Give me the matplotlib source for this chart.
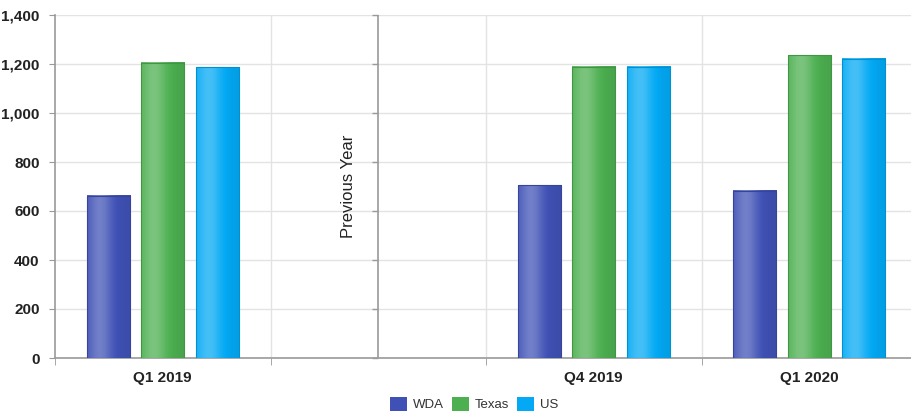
import numpy as np
import matplotlib
matplotlib.use("Agg")
from matplotlib import pyplot as plt
from matplotlib.colors import to_rgb
from matplotlib.patches import Patch

plt.rcParams['font.family'] = ['Liberation Sans', 'DejaVu Sans']

categories = ['Q1 2019', '', 'Q4 2019', 'Q1 2020']
series = ['WDA', 'Texas', 'US']
wda = [662, np.nan, 706, 682]
texas = [1205, np.nan, 1188, 1235]
us = [1187, np.nan, 1188, 1222]
colors = ['#3F51B5', '#4CAF50', '#03A9F4']
y_ticks = [0, 200, 400, 600, 800, 1000, 1200, 1400]
divider_label = 'Previous Year'


def shade(rgb, f):
    rgb = np.array(rgb)
    if f >= 0:
        return rgb + (1 - rgb) * f
    return rgb * (1 + f)


def gradient_bar(ax, x0, w, h, color):
    base = to_rgb(color)
    t = np.linspace(0, 1, 64)
    # light band left of centre, darker towards the edges
    f = 0.28 * np.exp(-((t - 0.3) / 0.28) ** 2) - 0.06 * t
    img = np.array([[shade(base, v) for v in f]])
    ax.imshow(img, extent=(x0, x0 + w, 0, h), aspect='auto', zorder=3,
              interpolation='bilinear')
    ax.add_patch(plt.Rectangle((x0, 0), w, h, fill=False,
                               edgecolor=shade(base, -0.15), lw=0.8, zorder=4))


fig = plt.figure(figsize=(9.11, 4.19), dpi=100)
ax = fig.add_axes([55 / 911, 1 - 358 / 419, 862 / 911, 343 / 419])

x = np.arange(len(categories))
width = 0.2
step = 0.252
for k, (vals, c) in enumerate(zip([wda, texas, us], colors)):
    for xi, v in zip(x, vals):
        if np.isnan(v):
            continue
        gradient_bar(ax, xi + (k - 1) * step - width / 2, width, v, c)

ax.set_xlim(-0.5, len(categories) - 0.5)
ax.set_ylim(0, 1400)
ax.set_yticks(y_ticks)
ax.set_yticklabels([f'{v:,}' for v in y_ticks], fontsize=11, fontweight='bold',
                   color='#222222')
ax.set_xticks(x)
ax.set_xticklabels(categories, fontsize=11, fontweight='bold', color='#222222')
ax.tick_params(axis='x', length=0, pad=9)
ax.tick_params(axis='y', length=4, color='#999999', pad=7)
ax.set_xticks(np.arange(-0.5, len(categories)), minor=True)
ax.tick_params(axis='x', which='minor', length=5, color='#999999')

ax.grid(axis='y', color='#e3e3e3', lw=1, zorder=0)
for b in np.arange(0.5, len(categories) - 1):
    ax.axvline(b, color='#e3e3e3', lw=1, zorder=0)
ax.set_axisbelow(True)

for s in ['top', 'right']:
    ax.spines[s].set_visible(False)
for s in ['left', 'bottom']:
    ax.spines[s].set_color('#9a9a9a')
    ax.spines[s].set_linewidth(1.2)

# divider between previous year and current quarters
ax.axvline(1, color='#9a9a9a', lw=1.2, zorder=2)
ax.plot([1] * len(y_ticks), y_ticks, marker=0, color='#9a9a9a', ms=4, ls='none',
        clip_on=False, zorder=2)
ax.text(0.86, 700, divider_label, rotation=90, ha='center', va='center',
        fontsize=12, color='#222222')

handles = [Patch(facecolor=c, edgecolor='none') for c in colors]
fig.legend(handles, series, loc='center', bbox_to_anchor=(474 / 911, 1 - 404 / 419),
           ncol=3, frameon=False, fontsize=9.5, handlelength=1.3, handleheight=1.3,
           handletextpad=0.45, columnspacing=0.6, labelcolor='#333333')

fig.savefig('out.png', dpi=100)
